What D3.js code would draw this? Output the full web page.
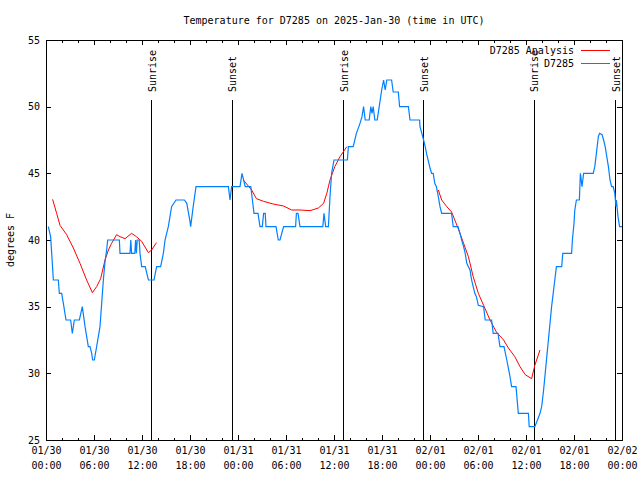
<!DOCTYPE html>
<html>
<head>
<meta charset="utf-8">
<script src="https://cdn.jsdelivr.net/npm/d3@7"></script>
<style>
  body { margin: 0; background: #fff; }
  svg text { font-family: "DejaVu Sans Mono", monospace; font-size: 10px; fill: #000; }
</style>
</head>
<body>
<div id="chart"></div>
<script>
// hours after 2025-01-30 00:00 UTC, temperature in F
const obsData = [
  [0.29,41],[0.58,40.25],[0.92,37],[1.54,37],[1.67,36],[1.96,36],[2.17,35.25],[2.5,34],[3.08,34],
  [3.29,33],[3.54,34],[4.17,34],[4.54,35],[4.88,33.5],[5.29,32],[5.5,32],[5.71,31.5],[5.83,31],
  [6.04,31],[6.33,32],[6.75,33.5],[7.17,37],[7.38,38.4],[7.58,39.25],[7.71,40],[9.17,40],[9.25,39],
  [10.5,39],[10.6,40],[10.7,39],[11.1,39],[11.2,40],[11.3,39],[11.4,40],[11.65,40],[11.75,39],
  [11.96,38],[12.4,38],[12.8,37],[13.5,37],[13.83,38],[14.33,38],[14.67,39],[14.88,40],[15.29,41],
  [15.7,42.5],[16.25,43],[17.3,43],[17.6,42.75],[17.67,42.5],[18.0,41.4],[18.08,41],[18.4,42.5],
  [18.75,44],[22.8,44],[23.0,43],[23.2,44],[24.25,44],[24.5,45],[24.9,44],[25.6,44],[25.8,43],
  [26.0,42],[26.5,42],[26.75,41],[27.04,41],[27.2,42],[27.4,42],[27.5,41],[28.75,41],[29.04,40],
  [29.25,40],[29.7,41],[31.2,41],[31.3,42],[31.5,42],[31.75,41],[34.6,41],[34.75,42],[34.96,41],
  [35.3,41],[35.5,43.25],[35.7,45],[36.0,46],[37.67,46],[37.8,47],[38.4,47],[38.6,47.5],[38.8,48],
  [39.25,48.75],[39.5,49.25],[39.7,50],[39.9,49],[40.4,49],[40.6,50],[40.75,49.5],[40.9,50],
  [41.1,49],[41.4,49],[41.75,50.4],[41.96,51.25],[42.2,52],[42.4,51.25],[42.6,52],[43.2,52],
  [43.4,51.1],[44.04,51.1],[44.2,50],[45.3,50],[45.5,49],[46.7,49],[46.75,48.5],[47.2,47.5],
  [47.4,47],[47.6,46.4],[48.0,45.4],[48.2,45],[48.4,45],[48.6,44.25],[48.8,44],[49.04,43.25],
  [49.25,42.5],[49.46,42],[50.7,42],[50.9,41],[51.5,41],[51.75,40.5],[51.96,40],[52.2,39.5],
  [52.4,39],[52.6,38.25],[52.8,38],[53.0,37.75],[53.2,37],[53.4,36.5],[53.6,36],[53.8,35.75],
  [54.04,35.1],[54.7,35],[54.9,34],[55.7,34],[55.9,33],[56.5,33],[56.75,32],[57.25,32],[57.6,31],
  [58.0,29.75],[58.2,29],[58.75,29],[59.04,27],[60.3,27],[60.4,26],[61.1,26],[61.5,26.6],
  [61.75,27],[61.96,27.5],[62.2,28.75],[62.4,30],[62.6,31.25],[62.8,32.5],[63.0,33.75],[63.2,35],
  [63.4,36],[63.6,37],[63.8,38],[64.46,38],[64.6,39],[65.7,39],[65.8,40],[66.0,41.25],[66.1,42.25],
  [66.3,43],[66.67,43],[66.8,45],[67.0,44],[67.2,45],[68.4,45],[68.6,45.5],[68.8,46.5],[69.04,47.75],
  [69.2,48],[69.5,47.9],[69.7,47.5],[69.9,47],[70.1,46.25],[70.3,45.5],[70.5,44.5],[70.7,44],
  [70.9,44],[71.1,43.5],[71.25,42.5],[71.3,43],[71.5,41.75],[71.7,41],[72.0,41]
];

// analysis series, null marks a gap
const analysisData = [
  [0.83,43.05],[1.33,42],[1.75,41.1],[2.58,40.4],[3.42,39.4],[4.25,38.25],[5.08,37],[5.8,36.05],
  [6.33,36.5],[6.83,37.1],[7.38,38.5],[7.8,39.25],[8.2,39.75],[8.83,40.4],[9.25,40.25],[9.88,40.1],
  [10.7,40.5],[11.3,40.25],[11.96,39.9],[12.8,39.05],[13.2,39.25],[13.8,39.8],
  [19,null],
  [24.67,44.5],[25.7,43.75],[26.3,43.1],[27.2,42.9],[28.4,42.7],[29.7,42.55],[30.7,42.25],
  [31.75,42.25],[33.0,42.2],[34.04,42.4],[34.7,42.75],[35.1,43.5],[35.5,44.5],[36.1,45.5],
  [36.75,46.25],[37.6,47],
  [43,null],
  [49.04,43.75],[49.46,43],[50.1,42.5],[50.7,42.1],[51.1,41.5],[51.5,40.9],[52.2,39.75],
  [52.8,38.75],[53.4,37.25],[54.04,36],[54.7,35.1],[55.5,34],[56.3,33.1],[57.2,32.5],[57.8,31.9],
  [58.6,31.25],[59.25,30.5],[59.9,29.9],[60.7,29.6],[61.1,30.6],[61.75,31.75]
];

const sunriseHours = [13.2, 37.2, 61.05];
const sunsetHours = [23.3, 47.2, 71.2];
const yTicks = [25, 30, 35, 40, 45, 50, 55];

const W = 640, H = 480;
const mLeft = 46, mRight = 622, mTop = 40, mBottom = 440;
const t0 = Date.UTC(2025, 0, 30);
const toDate = h => new Date(t0 + h * 3600e3);

const svg = d3.select("#chart").append("svg")
  .attr("width", W)
  .attr("height", H);

const x = d3.scaleUtc()
  .domain([toDate(0), toDate(72)])
  .range([mLeft, mRight]);

const y = d3.scaleLinear()
  .domain([25, 55])
  .range([mBottom, mTop]);

// minor ticks every 2h, bottom and top
svg.append("g")
  .attr("transform", `translate(0,${mBottom})`)
  .call(d3.axisBottom(x).ticks(d3.utcHour.every(2)).tickSize(-2.5).tickFormat(""))
  .call(g => g.select(".domain").remove());
svg.append("g")
  .attr("transform", `translate(0,${mTop})`)
  .call(d3.axisTop(x).ticks(d3.utcHour.every(2)).tickSize(-2.5).tickFormat(""))
  .call(g => g.select(".domain").remove());

// major ticks every 6h
const xAxis = svg.append("g")
  .attr("transform", `translate(0,${mBottom})`)
  .call(d3.axisBottom(x).ticks(d3.utcHour.every(6)).tickSizeInner(-5).tickSizeOuter(0).tickPadding(7))
  .call(g => g.select(".domain").remove());
xAxis.selectAll(".tick text")
  .text(null)
  .each(function (d) {
    const t = d3.select(this);
    t.append("tspan").attr("x", 0).attr("dy", "0.71em").text(d3.utcFormat("%m/%d")(d));
    t.append("tspan").attr("x", 0).attr("dy", "1.45em").text(d3.utcFormat("%H:%M")(d));
  })
  .attr("dy", null);
xAxis.attr("font-family", null).attr("font-size", null);
svg.append("g")
  .attr("transform", `translate(0,${mTop})`)
  .call(d3.axisTop(x).ticks(d3.utcHour.every(6)).tickSize(-5).tickFormat(""))
  .call(g => g.select(".domain").remove());

svg.append("g")
  .attr("transform", `translate(${mLeft},0)`)
  .call(d3.axisLeft(y).tickValues(yTicks).tickSizeInner(-5).tickSizeOuter(0).tickPadding(6))
  .call(g => g.select(".domain").remove())
  .attr("font-family", null).attr("font-size", null);
svg.append("g")
  .attr("transform", `translate(${mRight},0)`)
  .call(d3.axisRight(y).tickValues(yTicks).tickSize(-5).tickFormat(""))
  .call(g => g.select(".domain").remove());

svg.selectAll(".tick line").attr("stroke", "#000").attr("shape-rendering", "crispEdges");

// sunrise / sunset markers
const sunEvents = sunriseHours.map(h => ({ h, label: "Sunrise" }))
  .concat(sunsetHours.map(h => ({ h, label: "Sunset" })));

svg.selectAll(".sun-line")
  .data(sunEvents)
  .enter()
  .append("line")
  .attr("class", "sun-line")
  .attr("x1", d => x(toDate(d.h)))
  .attr("x2", d => x(toDate(d.h)))
  .attr("y1", y(25 + 30 * 0.85))
  .attr("y2", mBottom)
  .attr("stroke", "#000")
  .attr("shape-rendering", "crispEdges");

svg.selectAll(".sun-label")
  .data(sunEvents)
  .enter()
  .append("text")
  .attr("class", "sun-label")
  .attr("transform", d => `translate(${x(toDate(d.h)) + 0.5},${y(25 + 30 * 0.87)}) rotate(-90)`)
  .attr("dominant-baseline", "central")
  .text(d => d.label);

const line = d3.line()
  .defined(d => d[1] != null)
  .x(d => x(toDate(d[0])))
  .y(d => y(d[1]));

svg.append("path")
  .datum(analysisData)
  .attr("fill", "none")
  .attr("stroke", "#ff0000")
  .attr("stroke-width", 1)
  .attr("d", line);

svg.append("path")
  .datum(obsData)
  .attr("fill", "none")
  .attr("stroke", "#0080ff")
  .attr("stroke-width", 1.2)
  .attr("d", line);

// border
svg.append("rect")
  .attr("x", mLeft).attr("y", mTop)
  .attr("width", mRight - mLeft).attr("height", mBottom - mTop)
  .attr("fill", "none").attr("stroke", "#000")
  .attr("shape-rendering", "crispEdges");

// legend
const legend = [
  { name: "D7285 Analysis", color: "#ff0000" },
  { name: "D7285", color: "#0080ff" }
];
legend.forEach((d, i) => {
  const ly = 50 + i * 13;
  svg.append("text")
    .attr("x", 574).attr("y", ly)
    .attr("text-anchor", "end")
    .attr("dominant-baseline", "central")
    .text(d.name);
  svg.append("line")
    .attr("x1", 581).attr("x2", 610)
    .attr("y1", ly).attr("y2", ly)
    .attr("stroke", d.color)
    .attr("shape-rendering", "crispEdges");
});

svg.append("text")
  .attr("x", (mLeft + mRight) / 2).attr("y", 24)
  .attr("text-anchor", "middle")
  .text("Temperature for D7285 on 2025-Jan-30 (time in UTC)");

svg.append("text")
  .attr("transform", `translate(10,${(mTop + mBottom) / 2}) rotate(-90)`)
  .attr("text-anchor", "middle")
  .attr("dominant-baseline", "central")
  .text("degrees F");
</script>
</body>
</html>
